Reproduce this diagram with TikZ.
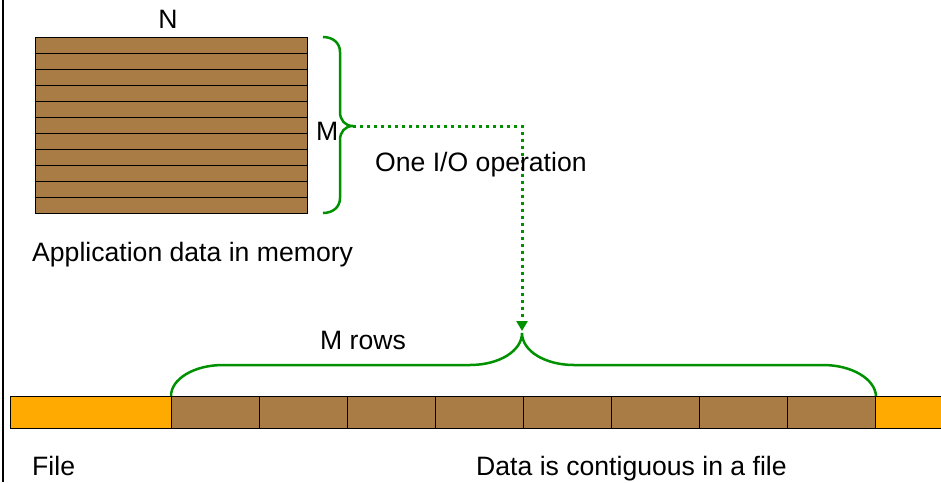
\documentclass[tikz,border=0pt]{standalone}
\usepackage{fontspec}
\setmainfont{Liberation Sans}
\usetikzlibrary{arrows.meta}
\definecolor{rowbrown}{RGB}{169,123,69}
\definecolor{fileorange}{RGB}{255,170,0}
\definecolor{bracegreen}{RGB}{0,145,0}

\begin{document}
\begin{tikzpicture}[x=1pt, y=-1pt, font=\fontsize{26.6}{30}\selectfont,
  brace/.style={draw=bracegreen, line width=2.5pt},
  label/.style={anchor=base west, inner sep=0pt},
  filecell/.style={rectangle, draw=black, line width=1pt, minimum height=32pt, inner sep=0pt, anchor=north west}]
\useasboundingbox (0,0) rectangle (941,482);
\draw[line width=2pt] (3,0) -- (3,482);

% application data, M rows of N
\node[rectangle, draw=black, line width=1pt, fill=rowbrown, minimum width=272pt, minimum height=176pt, inner sep=0pt, anchor=north west] (mem) at (35,37) {};
\foreach \i in {1,...,10}
  \draw[line width=1pt] ([yshift=-\i*16pt]mem.north west) -- ([yshift=-\i*16pt]mem.north east);
\node[anchor=base, inner sep=0pt] (ncols) at (168,28) {N};
\node[label] (mrows) at (316,140) {M};
\node[label] (memlabel) at (32,261) {Application data in memory};

\draw[brace] (323,37) .. controls (333,37) and (340,43) .. (340,52) -- (340,112)
  .. controls (340,120) and (345,126) .. (353,126)
  .. controls (345,126) and (340,132) .. (340,140) -- (340,198)
  .. controls (340,207) and (333,213) .. (323,213);
\coordinate (memtip) at (353,126);

% the file
\node[filecell, fill=fileorange, minimum width=161pt] (head) at (10,396) {};
\foreach \k in {1,...,8}
  \node[filecell, fill=rowbrown, minimum width=88pt] (seg\k) at ({171+88*(\k-1)},396) {};
\node[filecell, fill=fileorange, minimum width=80pt] (tail) at (875,396) {};

\draw[brace] (seg1.north west) .. controls (171,379) and (194,365) .. (223,365) -- (470,365)
  .. controls (499,365) and (522,351) .. (522,333)
  .. controls (522,351) and (545,365) .. (574,365) -- (823,365)
  .. controls (852,365) and (875,379) .. (seg8.north east);
\coordinate (filetip) at (522,333);

\draw[draw=bracegreen, line width=3pt, dash pattern=on 3pt off 4pt, -{Triangle[width=11pt,length=10pt,sep=2pt]}] (memtip) -| (filetip);

\node[label] (iolabel) at (375,171) {One I/O operation};
\node[label] (rowslabel) at (320,349) {M rows};
\node[label] (filelabel) at (32,475) {File};
\node[label] (contlabel) at (476,475) {Data is contiguous in a file};
\end{tikzpicture}
\end{document}
